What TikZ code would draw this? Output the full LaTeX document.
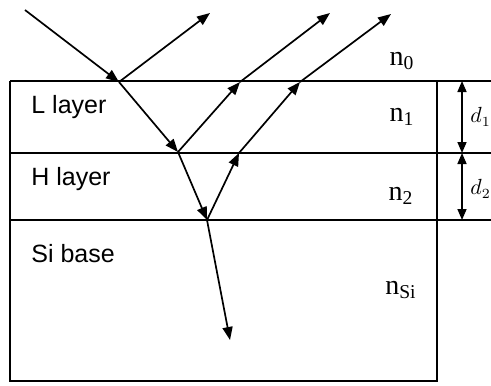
\documentclass[tikz,border=0pt]{standalone}
\usepackage{fontspec}
\setmainfont{Liberation Serif}
\newfontfamily\layerfont{Liberation Sans}
\usetikzlibrary{arrows.meta}
\tikzset{
  iface/.style={line width=1pt},
  ray/.style={line width=0.85pt, -{Triangle[length=6.5pt, width=5pt]}},
  dimline/.style={line width=0.8pt,
                  {Triangle[length=5.5pt, width=4.5pt]}-{Triangle[length=5.5pt, width=4.5pt]}},
  layer/.style={anchor=west, inner sep=0pt,
                font=\layerfont\fontsize{12.5}{14}\selectfont},
  nidx/.style={inner sep=0pt, font=\fontsize{14}{16}\selectfont},
  dlabel/.style={anchor=west, inner sep=0pt, font=\fontsize{10.5}{12}\selectfont},
}

\begin{document}
\begin{tikzpicture}[x=0.5pt, y=-0.5pt]
  \clip (0,0) rectangle (491,385);
  % layer stack
  \draw[iface] (10,81) -- (491,81);
  \draw[iface] (10,153) -- (491,153);
  \draw[iface] (10,220) -- (491,220);
  \draw[iface] (10,81) -- (10,381) -- (437,381) -- (437,81);

  \node[layer] (lL) at (31,107) {L layer};
  \node[layer] (lH) at (31,179) {H layer};
  \node[layer] (lSi) at (31,254) {Si base};

  \node[nidx] (n0) at (402,61) {n\textsubscript{0}};
  \node[nidx] (n1) at (402,117) {n\textsubscript{1}};
  \node[nidx] (n2) at (401,196) {n\textsubscript{2}};
  \node[nidx] (nSi) at (401,290) {n\textsubscript{Si}};

  % thickness marks
  \coordinate (t0) at (462,81);
  \coordinate (t1) at (462,153);
  \coordinate (t2) at (462,220);
  \draw[dimline] (t0) -- (t1);
  \draw[dimline] (t1) -- (t2);
  \node[dlabel] (d1) at (470,117) {$d_1$};
  \node[dlabel] (d2) at (470,189) {$d_2$};

  % rays
  \coordinate (src) at (25,10);
  \coordinate (p0) at (119,82);
  \coordinate (r0) at (210,13);
  \coordinate (p1) at (178,152);
  \coordinate (q1) at (240,82);
  \coordinate (r1) at (330,13);
  \coordinate (p2) at (207,220);
  \coordinate (q2) at (239,153);
  \coordinate (q3) at (300,82);
  \coordinate (r2) at (391,14);
  \coordinate (sink) at (230,340);
  \draw[ray] (src) -- (p0);
  \draw[ray] (p0) -- (r0);
  \draw[ray] (p0) -- (p1);
  \draw[ray] (p1) -- (q1);
  \draw[ray] (q1) -- (r1);
  \draw[ray] (p1) -- (p2);
  \draw[ray] (p2) -- (q2);
  \draw[ray] (q2) -- (q3);
  \draw[ray] (q3) -- (r2);
  \draw[ray] (p2) -- (sink);
\end{tikzpicture}
\end{document}
